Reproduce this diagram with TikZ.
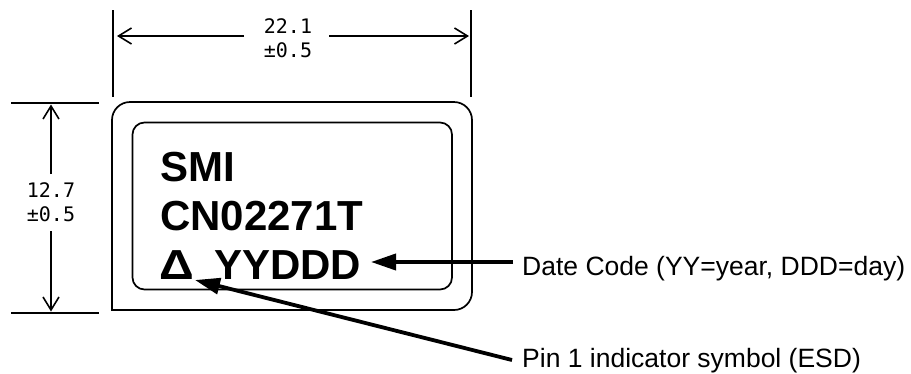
\documentclass[tikz,border=0pt]{standalone}
\usepackage{graphicx}
\usepackage{fontspec}
\setmainfont{Liberation Sans}
\newfontfamily\dimfont{DejaVu Sans Mono}
\usetikzlibrary{arrows.meta}
\tikzset{
  x=1pt,y=-1pt,
  ext/.style={line width=1.7pt,black},
  dimline/.style={line width=1.6pt,black,-{Straight Barb[length=13pt,width=16pt,line width=1.6pt]}},
  pointer/.style={line width=3.8pt,black,-{Triangle[length=25pt,width=16pt]}},
  dimtext/.style={font=\dimfont\fontsize{20}{24}\selectfont,align=center,inner sep=1pt},
  marktext/.style={font=\fontsize{42}{42}\selectfont\bfseries,anchor=base west,inner sep=0pt},
  calltext/.style={font=\fontsize{26.5}{30}\selectfont,anchor=base west,inner sep=0pt},
  outline/.style={line width=1.7pt,black},
}
\begin{document}
\begin{tikzpicture}
\useasboundingbox (0,0) rectangle (911,373);
% part outline
\draw[outline] (112,310) -- (112,120) arc[start angle=180,end angle=90,x radius=18,y radius=-18]
  -- (454,102) arc[start angle=90,end angle=0,x radius=18,y radius=-18]
  -- (472,292) arc[start angle=0,end angle=-90,x radius=18,y radius=-18] -- cycle;
\draw[outline,rounded corners=12pt] (132.5,122.5) rectangle (452,289.5);
% marking text
\node[marktext] (smi) at (160,181.5) {SMI};
\node[marktext] (cn) at (160,230.5) {CN02271T};
\node[marktext] (code) at (159,279.5) {\makebox[55pt][l]{\scalebox{1.15}[1]{Δ}}YYDDD};
% extension lines
\coordinate (e1a) at (113,10); \coordinate (e1b) at (113,97);
\coordinate (e2a) at (471,10); \coordinate (e2b) at (471,97);
\coordinate (e3a) at (11,103); \coordinate (e3b) at (99,103);
\coordinate (e4a) at (11,313); \coordinate (e4b) at (99,313);
\draw[ext] (e1a) -- (e1b);
\draw[ext] (e2a) -- (e2b);
\draw[ext] (e3a) -- (e3b);
\draw[ext] (e4a) -- (e4b);
% dimensions
\node[dimtext] (w) at (288,38) {22.1\\±0.5};
\node[dimtext] (h) at (51,202) {12.7\\±0.5};
\coordinate (wl) at (117,36); \coordinate (wr) at (469,36);
\coordinate (ht) at (51,104.5); \coordinate (hb) at (51,311.5);
\draw[dimline] (244,36) -- (wl);
\draw[dimline] (329,36) -- (wr);
\draw[dimline] (51,174) -- (ht);
\draw[dimline] (51,231) -- (hb);
% callouts
\node[calltext] (date) at (522,275) {Date Code (YY=year, DDD=day)};
\node[calltext] (pin) at (522,367.5) {Pin 1 indicator symbol (ESD)};
\coordinate (datetip) at (371,262);
\coordinate (pintip) at (195,280);
\coordinate (dates) at (513,262);
\coordinate (pins) at (512,360);
\draw[pointer] (dates) -- (datetip);
\draw[pointer] (pins) -- (pintip);
\end{tikzpicture}
\end{document}
